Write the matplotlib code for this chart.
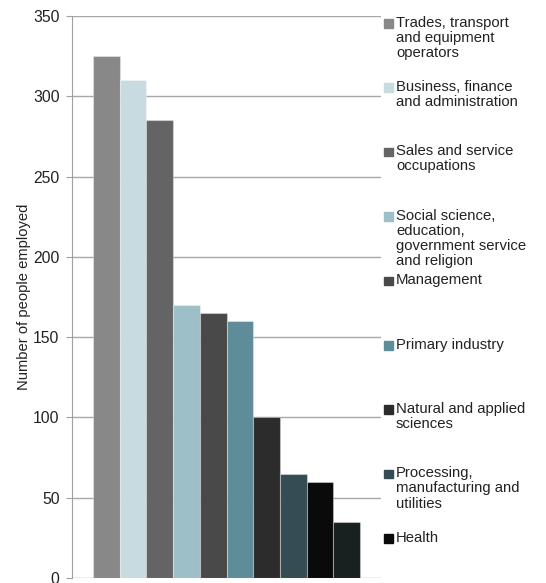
import matplotlib.pyplot as plt
from matplotlib.patches import Rectangle
import numpy as np

plt.rcParams['font.family'] = ['Liberation Sans', 'DejaVu Sans']

# occupation groups, largest first
labels = ["Trades, transport\nand equipment\noperators",
          "Business, finance\nand administration",
          "Sales and service\noccupations",
          "Social science,\neducation,\ngovernment service\nand religion",
          "Management",
          "Primary industry",
          "Natural and applied\nsciences",
          "Processing,\nmanufacturing and\nutilities",
          "Health"]
employed = [325, 310, 285, 170, 165, 160, 100, 65, 60, 35]
colours = ['#888888', '#c8dbe0', '#646464', '#9dc0c8', '#494949',
           '#5e8c99', '#2c2c2c', '#354c53', '#0a0a0a', '#182020']

W, H = 546, 583
fig = plt.figure(figsize=(W / 100, H / 100), dpi=100)
ax = fig.add_axes([72 / W, 1 - 578 / H, (381 - 72) / W, (578 - 16) / H])

x = np.arange(len(employed))
ax.bar(x, employed, width=1.0, color=colours,
       edgecolor=(1, 1, 1, 0.35), linewidth=0.8, zorder=3)

ax.set_xlim(-1.29, len(employed) - 1 + 1.29)
ax.set_ylim(0, 350)
ax.set_yticks(range(0, 351, 50))
ax.set_xticks([])
ax.yaxis.grid(True, color='#a8a8a8', linewidth=1.0)
ax.set_axisbelow(True)
for side in ['top', 'right', 'bottom']:
    ax.spines[side].set_visible(False)
ax.spines['left'].set_color('#a0a0a0')
ax.tick_params(axis='y', length=4, color='#a0a0a0', labelsize=11.3,
               labelcolor='#222222', pad=5)
ax.set_ylabel("Number of people employed", fontsize=10.6, color='#222222',
              labelpad=1)

# legend slots are evenly spaced down the right-hand side
for i, lab in enumerate(labels):
    top = 19 + i * 64.4
    fig.add_artist(Rectangle((384 / W, 1 - (top + 8.5) / H), 8.5 / W, 8.5 / H,
                             transform=fig.transFigure, color=colours[i]))
    fig.text(396 / W, 1 - (top - 3.5) / H, lab, fontsize=10.7, color='#222222',
             va='top', ha='left', linespacing=1.1)

fig.savefig('out.png', dpi=100)
